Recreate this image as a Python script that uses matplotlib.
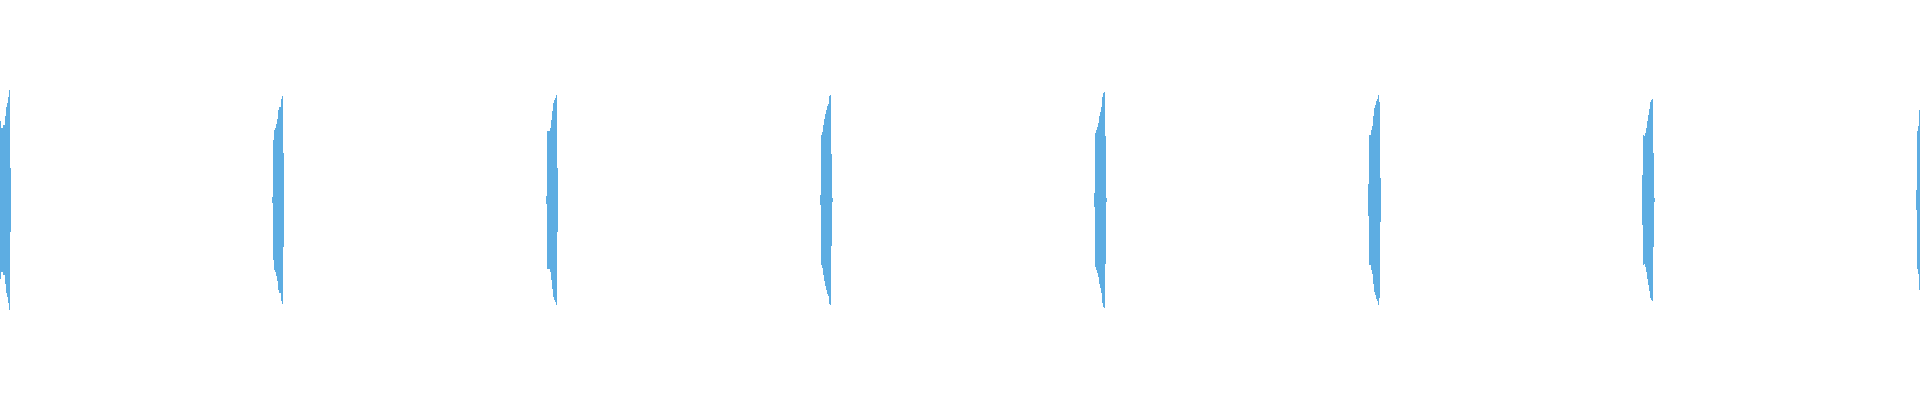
import matplotlib
matplotlib.use('Agg')
import matplotlib.pyplot as plt

# Inicio de cada ráfaga (columna de píxel) y amplitud de cada columna
inicios = [0, 272, 546, 820, 1094, 1368, 1642, 1916]
amplitudes = [
    [79, 72, 72, 75, 75, 84, 93, 97, 103, 110, 32],
    [3, 60, 70, 72, 76, 81, 90, 93, 93, 101, 104, 47],
    [4, 69, 69, 69, 72, 80, 89, 97, 100, 102, 105, 32],
    [5, 65, 68, 75, 81, 86, 90, 94, 96, 104, 105, 46, 2],
    [7, 67, 70, 73, 77, 84, 88, 93, 103, 107, 108, 64, 2],
    [16, 65, 65, 70, 74, 84, 92, 95, 99, 101, 105, 98, 22],
    [25, 65, 64, 67, 72, 79, 85, 91, 98, 100, 101, 47, 2],
    [10, 69, 74, 90],
]
color = '#5DADE2'

fig = plt.figure(figsize=(19.2, 4), dpi=100)
ax = fig.add_axes([0, 0, 1, 1])

for inicio, amps in zip(inicios, amplitudes):
    xs = [inicio + i for i in range(len(amps))]
    alturas = [2 * a for a in amps]
    bajos = [-a for a in amps]
    ax.bar(xs, alturas, bottom=bajos, width=1, align='edge', color=color, linewidth=0)

ax.set_xlim(0, 1920)
ax.set_ylim(-200, 200)
ax.axis('off')
fig.savefig('out.png', dpi=100, facecolor='white')
